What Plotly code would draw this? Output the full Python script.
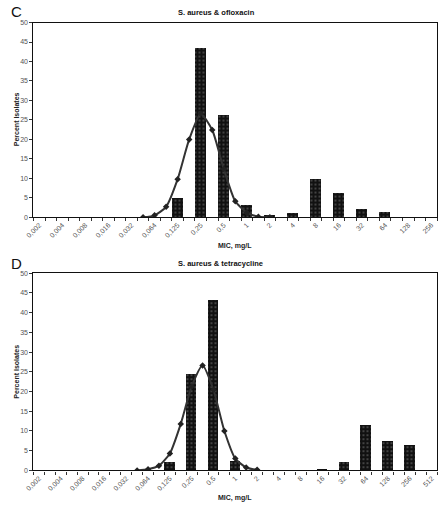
import plotly.graph_objects as go

# ---- data ----
mic_c = ["0,002", "0,004", "0,008", "0,016", "0,032", "0,064", "0,125", "0,25", "0,5",
         "1", "2", "4", "8", "16", "32", "64", "128", "256"]
pct_c = [0, 0, 0, 0, 0, 0, 5.2, 43.5, 26.3, 3.3, 0.75, 1.26, 10.0, 6.4, 2.2, 1.4, 0, 0]
fit_pos_c = [4.5, 5, 5.5, 6, 6.5, 7, 7.5, 8, 8.5, 9, 9.5, 10]
fit_c = [0, 0.5, 2.7, 9.8, 20.0, 26.6, 22.4, 12.4, 4.1, 1.2, 0.15, 0]

mic_d = ["0,002", "0,004", "0,008", "0,016", "0,032", "0,064", "0,125", "0,25", "0,5",
         "1", "2", "4", "8", "16", "32", "64", "128", "256", "512"]
pct_d = [0, 0, 0, 0, 0, 0, 2.2, 24.4, 43.2, 2.4, 0, 0, 0, 0.4, 2.0, 11.5, 7.5, 6.5, 0]
fit_pos_d = [4.5, 5, 5.5, 6, 6.5, 7, 7.5, 8, 8.5, 9, 9.5, 10]
fit_d = [0, 0.3, 1.2, 4.3, 11.8, 21.3, 26.6, 20.4, 10.0, 3.0, 0.75, 0.15]

titles = ["S. aureus &amp; ofloxacin", "S. aureus &amp; tetracycline"]
panel_letters = ["C", "D"]

W, H = 443, 505
FONT = "Liberation Sans, Arial, sans-serif"

fig = go.Figure()

def px_x(p):
    return p / W

def px_y(p):
    return 1 - p / H

panels = [
    (mic_c, pct_c, fit_pos_c, fit_c, (18.8, 216.3), "x", "y"),
    (mic_d, pct_d, fit_pos_d, fit_d, (273.0, 473.0), "x2", "y2"),
]

xdom = [px_x(25), px_x(437)]
for k, (cats, pct, fpos, fit, (ytop, ybot), xa, ya) in enumerate(panels):
    n = len(cats)
    xs = list(range(n))
    fig.add_trace(go.Bar(
        x=xs, y=pct, width=0.48, xaxis=xa, yaxis=ya,
        marker=dict(color="black",
                    line=dict(width=0),
                    pattern=dict(shape=".", fgcolor="white", bgcolor="#111",
                                 size=4, solidity=0.12)),
        showlegend=False,
    ))
    fig.add_trace(go.Scatter(
        x=fpos, y=fit, mode="lines+markers", xaxis=xa, yaxis=ya,
        line=dict(color="#333", width=2, shape="spline", smoothing=0.6),
        marker=dict(symbol="diamond", size=5, color="#222"),
        showlegend=False,
    ))
    xname = "xaxis" if k == 0 else "xaxis2"
    yname = "yaxis" if k == 0 else "yaxis2"
    minor_vals = [i * 0.5 - 0.25 for i in range(2 * n + 1)]
    fig.layout[xname] = dict(
        domain=xdom, anchor=ya, range=[-0.25, n - 0.75],
        tickmode="array", tickvals=xs, ticktext=cats, tickangle=-45,
        ticks="", showline=True, linecolor="#111", linewidth=1.2, mirror=True,
        showgrid=False, zeroline=False,
        tickfont=dict(family=FONT, size=7, color="#555"),
        minor=dict(tickmode="array", tickvals=minor_vals, ticks="outside",
                   ticklen=3, tickcolor="#333", tickwidth=1, showgrid=False),
    )
    fig.layout[yname] = dict(
        domain=[px_y(ybot), px_y(ytop)], anchor=xa, range=[0, 50],
        tickmode="linear", tick0=0, dtick=5, ticks="outside", ticklen=3,
        tickcolor="#333", showline=True, linecolor="#111", linewidth=1.2,
        mirror=True, showgrid=False, zeroline=False,
        tickfont=dict(family=FONT, size=7, color="#555"),
    )

annos = []
# panel letters
for letter, ycen in zip(panel_letters, [8, 263]):
    annos.append(dict(text=letter, x=px_x(8), y=px_y(ycen), xref="paper", yref="paper",
                      showarrow=False, font=dict(family=FONT, size=15, color="#111"),
                      xanchor="center", yanchor="middle", borderpad=0))
# titles
for t, (xc, yc) in zip(titles, [(211.5, 8.5), (216, 263.5)]):
    annos.append(dict(text="<b>" + t + "</b>", x=px_x(xc), y=px_y(yc), xref="paper",
                      yref="paper", showarrow=False,
                      font=dict(family=FONT, size=7.5, color="#111"),
                      xanchor="center", yanchor="middle"))
# y titles
for yc in [117, 373]:
    annos.append(dict(text="<b>Percent Isolates</b>", x=px_x(8), y=px_y(yc), xref="paper",
                      yref="paper", showarrow=False, textangle=-90,
                      font=dict(family=FONT, size=7, color="#222"),
                      xanchor="center", yanchor="middle"))
# x titles
for yc in [245, 501]:
    annos.append(dict(text="<b>MIC, mg/L</b>", x=px_x(231), y=px_y(yc), xref="paper",
                      yref="paper", showarrow=False,
                      font=dict(family=FONT, size=7, color="#222"),
                      xanchor="center", yanchor="middle"))

fig.update_layout(
    width=W, height=H, margin=dict(l=0, r=0, t=0, b=0),
    paper_bgcolor="white", plot_bgcolor="white",
    annotations=annos, bargap=0,
)

fig.write_html("out.html")
